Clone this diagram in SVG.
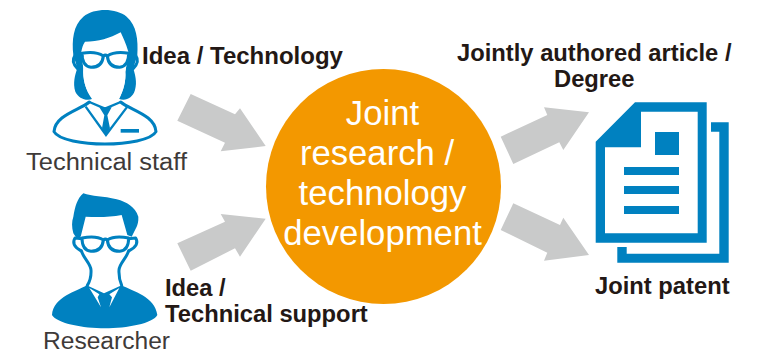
<svg xmlns="http://www.w3.org/2000/svg" width="766" height="352" viewBox="0 0 766 352">
<style>
text{font-family:"Liberation Sans",Arial,sans-serif}
.b{font-weight:700;font-size:23.75px;fill:#231815}
.g{font-size:23px;fill:#3e3a39}
.c{font-size:34.7px;fill:#fff;text-anchor:middle}
.arrow{fill:#c9caca}
.blue{fill:#0081c0}
.line{fill:none;stroke:#0081c0;stroke-width:10;stroke-linejoin:round;stroke-linecap:round}
</style>
<rect width="766" height="352" fill="#fff"/>
<g id="connectors">
<polygon class="arrow" points="190.7,94 235,114.3 240,108.3 265.7,146 220.7,151.3 225,142.7 177.3,120.7"/>
<polygon class="arrow" points="177.3,243.3 225,221.7 220.7,214 265.7,218.7 240,256.7 235,248.3 190.7,270.7"/>
<polygon class="arrow" points="500.7,136.7 547.3,115 544,107.3 589,112.3 563.3,150 559.3,142.3 513.3,164"/>
<polygon class="arrow" points="513.3,203.3 560,225 563.3,217.7 589,255 544,260.7 547.3,252.7 500.7,230"/>
</g>
<g id="center">
<circle cx="383.5" cy="186.5" r="117.5" fill="#f39800"/>
<text class="c" x="382.5" y="125">Joint</text>
<text class="c" x="377" y="165">research /</text>
<text class="c" x="382.5" y="205">technology</text>
<text class="c" x="382.5" y="245">development</text>
</g>
<g id="technical-staff">
<g transform="translate(20 0) scale(.33333)">
<path class="blue" d="M160 165C155 120 160 75 190 50C225 22 290 25 320 50C350 75 355 120 352 165L340 205C345 225 352 245 345 270C338 295 315 305 296 296C312 270 318 240 316 215L325 155C318 130 308 110 302 97C270 115 235 125 195 125C188 135 186 145 184 155L190 205C188 235 195 270 218 296C200 305 175 295 166 275C158 250 165 225 172 205Z"/>
<path fill="#fff" d="M184 160H326L316 215C318 240 312 270 296 300H218C195 270 188 235 190 205Z"/>
<path class="line" d="M208 306C180 330 105 345 102 395C115 420 190 432 255 432C320 432 395 420 408 395C405 345 330 330 302 306" style="stroke-width:9"/>
<path class="line" style="stroke-width:7;stroke-linecap:butt;stroke-linejoin:miter" d="M197 320L258 405L322 320M208 306L255 326L302 306"/>
<polygon class="blue" points="238,322 275,322 262,346 270,385 258,403 246,385 253,346"/>
<rect class="blue" x="302" y="387" width="55" height="11"/>
<g class="line" style="stroke-width:9">
<path d="M186 160C215 155 235 158 250 168C248 190 235 202 213 202C195 200 186 185 186 160Z"/>
<path d="M326 160C297 155 277 158 262 168C264 190 277 202 299 202C317 200 326 185 326 160Z"/>
<path d="M250 168Q256 163 262 168M186 168L165 166Q152 185 172 205M326 168L347 166Q360 185 340 205"/>
</g>
</g>
<text class="g" x="26" y="170" textLength="161" lengthAdjust="spacingAndGlyphs">Technical staff</text>
</g>
<g id="researcher">
<g transform="translate(20 180) scale(.33333)">
<path class="blue" d="M190 40C215 50 250 48 290 58C320 66 345 80 355 110C356 125 352 135 350 140C345 150 340 160 335 170L322 165L305 105C270 112 230 112 197 110L182 170L170 175L160 160C155 140 155 125 160 110C165 80 172 55 190 40Z"/>
<path class="blue" d="M200 316L252 340L305 316C340 335 405 350 412 405C400 430 320 445 255 445C190 445 110 430 96 405C100 350 170 335 200 316Z"/>
<path fill="#fff" d="M208 324L238 343L233 352L243 382ZM298 324L268 343L276 352L268 382Z"/>
<path class="line" style="stroke-width:9" d="M184 212C190 235 212 250 213 270C214 290 212 300 202 316M326 212C320 235 298 250 297 270C296 290 298 300 305 316"/>
<g class="line" style="stroke-width:9">
<path d="M186 174C215 168 235 170 250 180C248 203 235 214 213 214C195 212 186 198 186 174Z"/>
<path d="M326 174C297 168 277 170 262 180C264 203 277 214 299 214C317 212 326 198 326 174Z"/>
<path d="M250 180Q256 175 262 180M186 176L165 174Q152 195 182 212M326 176L347 174Q360 195 328 212"/>
</g>
</g>
<text class="g" x="43" y="349" textLength="127" lengthAdjust="spacingAndGlyphs">Researcher</text>
</g>
<g id="document">
<path class="blue" fill-rule="evenodd" d="M635 102.3H706.7V242.7H595.7V141.7ZM641 111.7V147.3H605V233.3H697.7V111.7Z"/>
<polygon class="blue" points="711,122.3 728.7,122.3 728.7,262.7 617.3,262.7 617.3,247 626.7,247 626.7,253.7 719.3,253.7 719.3,131.7 711,131.7"/>
<rect class="blue" x="655" y="132" width="24" height="23"/>
<rect class="blue" x="624" y="167" width="55" height="8"/>
<rect class="blue" x="624" y="186" width="55" height="8"/>
<rect class="blue" x="624" y="206" width="55" height="8"/>
</g>
<g id="labels">
<text class="b" x="142" y="64" style="font-size:24px">Idea / Technology</text>
<text class="b" x="457" y="61">Jointly authored article /</text>
<text class="b" x="554" y="87">Degree</text>
<text class="b" x="595" y="294">Joint patent</text>
<text class="b" x="165" y="296">Idea /</text>
<text class="b" x="165" y="322">Technical support</text>
</g>
</svg>
